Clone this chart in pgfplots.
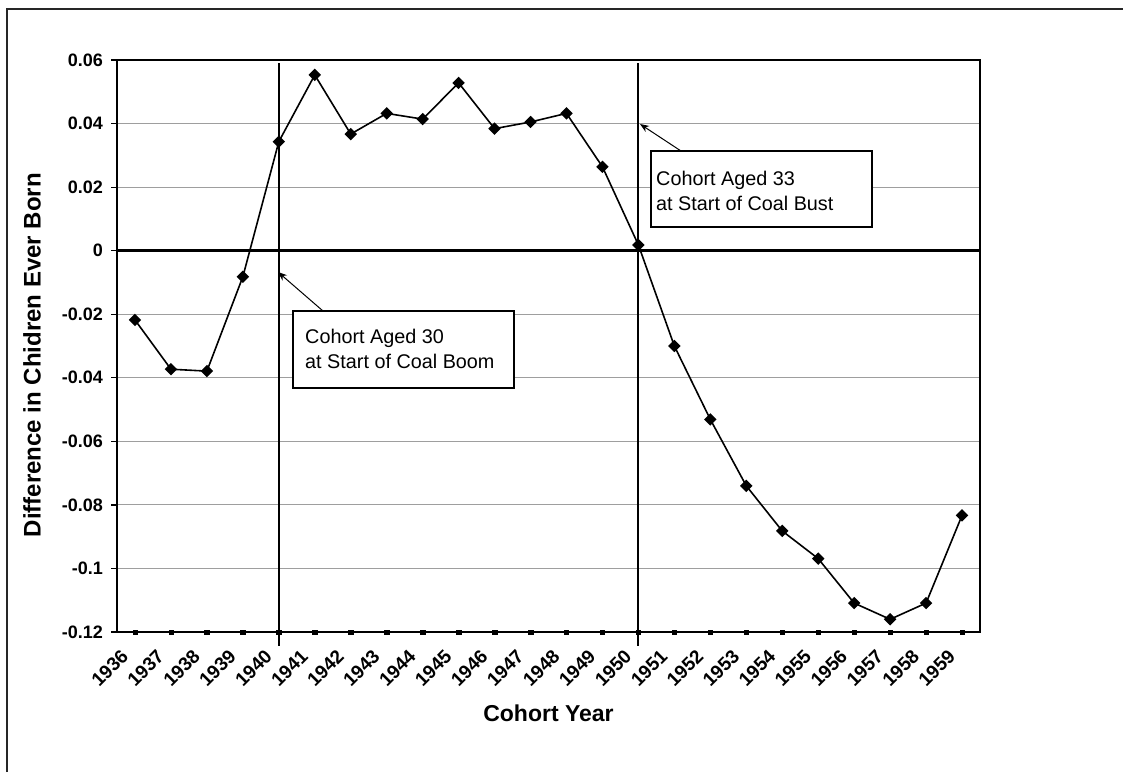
\documentclass[border=0pt]{standalone}
\usepackage{pgfplots}
\pgfplotsset{compat=1.18}
\usepackage{fontspec}
\setmainfont{Liberation Sans}
\usetikzlibrary{arrows.meta}
\pgfplotstableread{
x y
0 -0.0218
1 -0.0373
2 -0.0379
3 -0.0082
4 0.0343
5 0.0553
6 0.0367
7 0.0432
8 0.0414
9 0.0528
10 0.0384
11 0.0405
12 0.0432
13 0.0264
14 0.0018
15 -0.0300
16 -0.0531
17 -0.0740
18 -0.0882
19 -0.0969
20 -0.1109
21 -0.1160
22 -0.1109
23 -0.0833
}\cebdata
\pgfplotstableread{
x y
0 -0.12
1 -0.12
2 -0.12
3 -0.12
4 -0.12
5 -0.12
6 -0.12
7 -0.12
8 -0.12
9 -0.12
10 -0.12
11 -0.12
12 -0.12
13 -0.12
14 -0.12
15 -0.12
16 -0.12
17 -0.12
18 -0.12
19 -0.12
20 -0.12
21 -0.12
22 -0.12
23 -0.12
}\basedata
\begin{document}
\begin{tikzpicture}[x=1pt,y=1pt]
\useasboundingbox (0,0) rectangle (1123,-772);
\draw[line width=2pt, black!85] (7,-772) -- (7,-9) -- (1123,-9);
\begin{axis}[
  at={(117pt,-632pt)}, anchor=south west,
  width=863pt, height=572pt, scale only axis,
  xmin=-0.5, xmax=23.5, ymin=-0.12, ymax=0.06,
  axis line style={line width=1.8pt},
  xtick={-0.42,0.58,1.58,2.58,3.58,4.58,5.58,6.58,7.58,8.58,9.58,10.58,11.58,12.58,13.58,14.58,15.58,16.58,17.58,18.58,19.58,20.58,21.58,22.58},
  xticklabels={1936,1937,1938,1939,1940,1941,1942,1943,1944,1945,1946,1947,1948,1949,1950,1951,1952,1953,1954,1955,1956,1957,1958,1959},
  x tick style={draw=none},
  xticklabel shift=10pt,
  xticklabel style={rotate=45, anchor=north east, inner sep=0pt, font=\fontsize{19}{21}\selectfont\bfseries},
  ytick={-0.12,-0.1,-0.08,-0.06,-0.04,-0.02,0,0.02,0.04,0.06},
  yticklabels={-0.12,-0.1,-0.08,-0.06,-0.04,-0.02,0,0.02,0.04,0.06},
  ytick pos=left,
  yticklabel style={anchor=east, inner sep=0pt, xshift=-8pt, font=\fontsize{18}{20}\selectfont\bfseries},
  tick align=outside, major tick length=6pt,
  y tick style={line width=1.2pt, black},
  ymajorgrids, grid style={line width=1pt, black!38},
  xlabel={Cohort Year},
  xlabel style={at={(axis description cs:0.5,-0.157)}, anchor=base, font=\fontsize{23}{26}\selectfont\bfseries},
  ylabel={Difference in Chidren Ever Born},
  ylabel style={at={(axis description cs:-0.088,0.484)}, anchor=south, inner sep=0pt, font=\fontsize{24}{27}\selectfont\bfseries},
  clip=false,
]
\draw[line width=3.5pt] (axis cs:-0.5,0) -- (axis cs:23.5,0);
\draw[line width=2pt] (axis cs:4,0.059) -- (axis cs:4,-0.1244);
\draw[line width=2pt] (axis cs:14,0.059) -- (axis cs:14,-0.1244);
\addplot[only marks, mark=square*, mark size=2.2pt, black] table {\basedata};
\addplot[line width=1.6pt, black, mark=square*, mark size=3.6pt, mark options={rotate=45}] table {\cebdata};
\end{axis}
% annotations
\draw[line width=1.5pt, fill=white] (293,-311) rectangle (514,-388);
\node[anchor=base west, inner sep=0pt, font=\fontsize{19.8}{25}\selectfont] at (305,-343) {Cohort Aged 30};
\node[anchor=base west, inner sep=0pt, font=\fontsize{19.8}{25}\selectfont] at (305,-368) {at Start of Coal Boom};
\draw[line width=1pt, -{Stealth[length=9pt,width=7pt]}] (323,-311) -- (278,-272);
\draw[line width=1.5pt, fill=white] (651,-151) rectangle (872,-227);
\node[anchor=base west, inner sep=0pt, font=\fontsize{19.8}{25}\selectfont] at (656,-185) {Cohort Aged 33};
\node[anchor=base west, inner sep=0pt, font=\fontsize{19.8}{25}\selectfont] at (656,-210) {at Start of Coal Bust};
\draw[line width=1pt, -{Stealth[length=9pt,width=7pt]}] (681,-151) -- (640,-124);
\end{tikzpicture}
\end{document}
